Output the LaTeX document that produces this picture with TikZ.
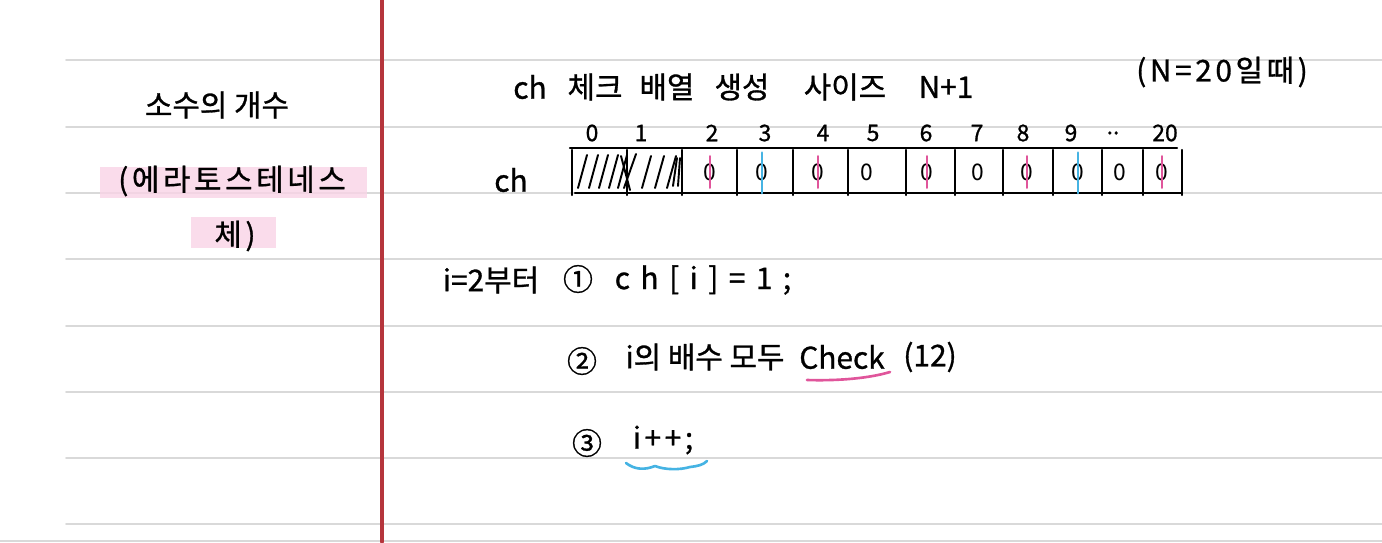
\documentclass[tikz,border=0pt]{standalone}
\usepackage{fontspec}
\setmainfont{Noto Sans CJK KR}
\usetikzlibrary{positioning}
\definecolor{ruleline}{HTML}{D9D9D9}
\definecolor{margin}{HTML}{B5353C}
\definecolor{hlpink}{HTML}{F9D3E6}
\definecolor{penpink}{HTML}{E0559B}
\definecolor{penblue}{HTML}{45B3E3}
\tikzset{
  hand/.style={font={\fontsize{17}{20}\selectfont\addfontfeatures{FakeBold=1}}, inner sep=0pt},
  spread/.style={font={\fontsize{17}{20}\selectfont\addfontfeatures{FakeBold=1,LetterSpace=12}}},
  wide/.style={font={\fontsize{17}{20}\selectfont\addfontfeatures{FakeBold=1,LetterSpace=35}}},
  idx/.style={font={\fontsize{13}{15}\selectfont\addfontfeatures{FakeBold=1}}, inner sep=0pt},
  cellval/.style={font=\fontsize{13}{15}\selectfont, inner sep=0pt},
  pen/.style={line width=1.3pt},
  hatch/.style={line width=1.1pt},
}
\begin{document}
\begin{tikzpicture}[x=0.02cm, y=-0.02cm, line cap=round, line join=round]
    \useasboundingbox (0,0) rectangle (1382,542);
    % 공책 줄
    \foreach \y in {60,127,193,259,326,392,458,524}
        \draw[ruleline, line width=1.1pt] (66,\y) -- (1382,\y);
    \draw[ruleline, line width=1.1pt] (0,541) -- (1382,541);
    \draw[margin, line width=1.8pt] (382,0) -- (382,542);
    % 왼쪽 제목
    \fill[hlpink, opacity=0.8] (100,167) rectangle (367,198);
    \fill[hlpink, opacity=0.8] (191,217) rectangle (276,248);
    \node[hand] (title) at (217,105) {소수의 개수};
    \node[hand, spread] (erat) at (232,181) {(에라토스테네스};
    \node[hand, spread] (sieve) at (235,236) {체)};
    % 배열 설명
    \foreach \x/\t [count=\k] in {530/ch, 595/체크, 667/배열, 742/생성, 845/사이즈, 946/N+1}
        \node[hand] (h\k) at (\x,87) {\t};
    \node[hand, spread] (note) at (1222,72) {(N=20일때)};
    % 인덱스
    \foreach \x/\t [count=\k] in {592/0, 641/1, 712/2, 765/3, 823/4, 873/5, 926/6, 977/7, 1023/8, 1071/9, 1113/{..}, 1165/20}
        \node[idx] (n\k) at (\x,133) {\t};
    \node[hand] (arr) at (511,180) {ch};
    % ch 배열
    \draw[pen] (570,148) -- (1177,148);
    \draw[pen] (575,193) -- (1182,193);
    \foreach \x in {572,627,682,737,793,848,906,955,1003,1053,1102,1143,1182}
        \draw[pen] (\x,150) -- (\x,195);
    % 0, 1 은 빗금
    \foreach \x in {578,589,599,609,618}
        \draw[hatch] (\x,188) -- (\x+9,155);
    \draw[hatch] (621,156) -- (630,190);
    \draw[hatch] (624,188) -- (636,154);
    \foreach \x in {642,655,667}
        \draw[hatch] (\x,188) -- (\x+9,156);
    \draw[hatch] (673,186) -- (677,158);
    \draw[hatch] (678,186) -- (680,158);
    % 값
    \foreach \x/\n in {710/2, 762/3, 818/4, 867/5, 927/6, 978/7, 1027/8, 1078/9, 1120/10, 1162/20}
        \node[cellval] (v\n) at (\x,172) {0};
    \foreach \n in {2,4,6,8,20}
        \draw[penpink, line width=1.4pt] ([yshift=4pt]v\n.north) -- ([yshift=-4pt]v\n.south);
    \foreach \n in {3,9}
        \draw[penblue, line width=1.6pt] ([yshift=6pt]v\n.north) -- ([yshift=-7pt]v\n.south);
    % 순서
    \node[hand] (from) at (491,280) {i=2부터};
    \node[hand] (s1) at (578,279) {①};
    \node[hand, wide] (s1t) at (703,280) {ch[i]=1;};
    \node[hand] (s2) at (582,361) {②};
    \node[hand] (s2t) at (705,357) {i의 배수 모두};
    \node[hand] (chk) at (842,357) {Check};
    \node[hand] (cnt) at (930,357) {(12)};
    \node[hand] (s3) at (587,443) {③};
    \node[hand, spread] (s3t) at (663,440) {i++;};
    % 밑줄
    \draw[penpink, line width=1.5pt] (807,380) .. controls (840,381) and (870,378) .. (890,372);
    \draw[penblue, line width=1.5pt] (626,463) .. controls (635,470) and (645,470) .. (655,466)
        .. controls (665,470) and (680,470) .. (690,467) .. controls (698,466) and (703,465) .. (707,461);
\end{tikzpicture}
\end{document}
